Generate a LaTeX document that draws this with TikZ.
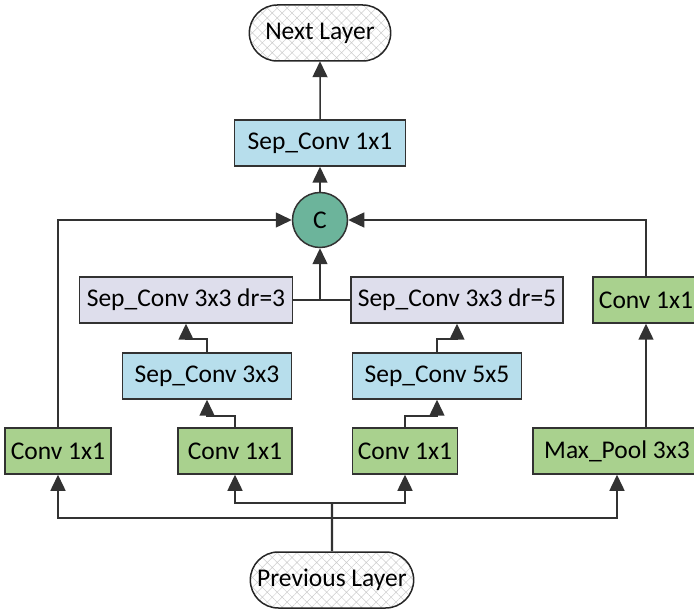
\documentclass[tikz,border=0pt]{standalone}
\usepackage{fontspec}
\setmainfont{Carlito}
\usepackage{tikz}
\usetikzlibrary{shapes.misc,arrows.meta,positioning,patterns.meta}
\definecolor{convgreen}{RGB}{169,209,142}
\definecolor{sepblue}{RGB}{183,222,236}
\definecolor{dilgray}{RGB}{222,222,236}
\definecolor{catteal}{RGB}{108,180,155}
\definecolor{linegray}{RGB}{50,50,50}

\begin{document}
\begin{tikzpicture}[x=1pt, y=1pt, font=\fontsize{25.5}{30}\selectfont]
    \tikzstyle{block} = [rectangle, draw=linegray, line width=1.5pt, text centered, minimum height=46pt, inner sep=0pt]
    \tikzstyle{convbox} = [block, fill=convgreen]
    \tikzstyle{sepbox} = [block, fill=sepblue]
    \tikzstyle{dilbox} = [block, fill=dilgray]
    \tikzstyle{cat} = [circle, draw=linegray, line width=1.5pt, fill=catteal, minimum size=55pt, inner sep=0pt]
    \tikzstyle{layer} = [rounded rectangle, draw=black!85, line width=1.5pt, minimum height=56pt, pattern={Hatch[angle=45,distance=7pt,line width=0.5pt]}, pattern color=black!20]
    \tikzstyle{line} = [line width=1.5pt, draw=linegray]
    \tikzstyle{arrow} = [line, -{Triangle[length=16pt,width=15pt]}]

    \useasboundingbox (0,0) rectangle (694,-612);

    % branches
    \node [convbox, minimum width=106pt] (conv1) at (58,-451) {Conv 1x1};
    \node [convbox, minimum width=114pt] (conv2) at (235,-451) {Conv 1x1};
    \node [convbox, minimum width=105pt] (conv3) at (405,-451) {Conv 1x1};
    \node [convbox, minimum width=168pt] (pool) at (617,-451) {Max\_Pool 3x3};
    \node [sepbox, minimum width=169pt] (sep3) at (207,-376) {Sep\_Conv 3x3};
    \node [sepbox, minimum width=169pt] (sep5) at (437,-376) {Sep\_Conv 5x5};
    \node [dilbox, minimum width=213pt] (dil3) at (186,-300) {Sep\_Conv 3x3 dr=3};
    \node [dilbox, minimum width=212pt] (dil5) at (457,-300) {Sep\_Conv 3x3 dr=5};
    \node [convbox, minimum width=106pt] (conv4) at (646,-300) {Conv 1x1};

    % spine
    \node [cat] (concat) at (320,-220) {C};
    \node [sepbox, minimum width=171pt, above=25pt of concat] (sepout) {Sep\_Conv 1x1};
    \node [layer, minimum width=148pt, above=58pt of sepout] (next) {Next Layer};
    \node [layer, minimum width=170pt] (prev) at (332,-580) {Previous Layer};

    \draw [arrow] (sepout) -- (next);
    \draw [arrow] (concat) -- (sepout);
    \draw [line] (dil3) -- (dil5);
    \coordinate (join) at (concat |- dil3);
    \draw [arrow] (join) -- (concat);
    \draw [arrow] (conv1) |- (concat);
    \draw [arrow] (conv4) |- (concat);

    \draw [arrow] (sep3.north) -- ++(0,13) -| (dil3);
    \draw [arrow] (sep5.north) -- ++(0,13) -| (dil5);
    \draw [arrow] (conv2.north) -- ++(0,11) -| (sep3);
    \draw [arrow] (conv3.north) -- ++(0,11) -| (sep5);
    \draw [arrow] (conv4.south |- pool.north) -- (conv4);

    % input fan-out
    \coordinate (fork) at (332,-503);
    \coordinate (fork2) at (332,-518);
    \draw [line, line width=2.4pt] (prev) -- (fork);
    \draw [arrow] (fork) -| (conv2);
    \draw [arrow] (fork) -| (conv3);
    \draw [arrow] (fork2) -| (conv1);
    \draw [arrow] (fork2) -| (pool);
\end{tikzpicture}
\end{document}
